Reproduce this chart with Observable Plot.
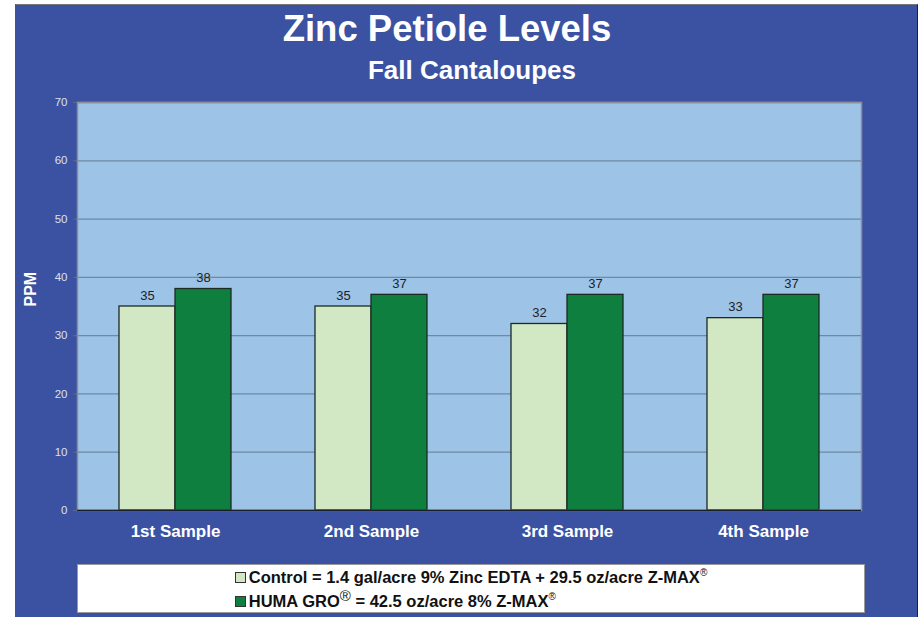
<!DOCTYPE html>
<html>
<head>
<meta charset="utf-8">
<script src="https://cdn.jsdelivr.net/npm/d3@7"></script>
<script src="https://cdn.jsdelivr.net/npm/@observablehq/plot@0.6"></script>
<style>
  html, body { margin: 0; padding: 0; background: #ffffff; }
  body { width: 923px; height: 617px; overflow: hidden; position: relative; font-family: "Liberation Sans", Arial, sans-serif; }
  #bg { position: absolute; left: 15px; top: 4px; width: 901px; height: 620px; background: #3b52a3; border-top: 1px solid #777; border-right: 1px solid #222; border-left: 1px solid #555; }
  .title { position: absolute; left: 0; top: 11px; width: 894px; text-align: center; color: #fff; font-weight: bold; font-size: 36.5px; line-height: 36px; }
  .subtitle { position: absolute; left: 0; top: 57px; width: 944px; text-align: center; color: #fff; font-weight: bold; font-size: 26px; line-height: 26px; }
  #chart { position: absolute; left: 0; top: 90px; }
  #legend { position: absolute; left: 77px; top: 564px; width: 786px; height: 47px; background: #fff; border: 1px solid #9a9a9a; display: flex; justify-content: center; align-items: center; }
  #legend .items { display: flex; flex-direction: column; align-items: flex-start; padding-left: 0px; margin-top: 1px; }
  #legend .item { display: flex; align-items: center; font-weight: bold; font-size: 16.5px; line-height: 24px; color: #111; white-space: nowrap; }
  #legend .sw { width: 9px; height: 9px; border: 1px solid #333; margin-right: 3px; }
  #legend sup.s { font-size: 10px; font-weight: normal; vertical-align: 7px; line-height: 0; }
  #legend sup.b { font-size: 15px; font-weight: normal; vertical-align: 6px; line-height: 0; }
</style>
</head>
<body>
<div id="bg"></div>
<div class="title">Zinc Petiole Levels</div>
<div class="subtitle">Fall Cantaloupes</div>
<div id="chart"></div>
<div id="legend"></div>
<script>
const samples = ["1st Sample", "2nd Sample", "3rd Sample", "4th Sample"];
const seriesNames = ["Control", "HUMA GRO"];
const controlValues = [35, 35, 32, 33];
const humaValues = [38, 37, 37, 37];
const seriesColors = ["#d2e7c3", "#0e7f3f"];
const yTicks = [0, 10, 20, 30, 40, 50, 60, 70];
const legendLabels = [
  'Control = 1.4 gal/acre 9% Zinc EDTA + 29.5 oz/acre Z-MAX<sup class="s">®</sup>',
  'HUMA GRO<sup class="b">®</sup> = 42.5 oz/acre 8% Z-MAX<sup class="s">®</sup>'
];

const data = [];
samples.forEach((s, i) => {
  data.push({sample: s, series: seriesNames[0], value: controlValues[i]});
  data.push({sample: s, series: seriesNames[1], value: humaValues[i]});
});

const chart = Plot.plot({
  width: 923,
  height: 460,
  marginLeft: 77,
  marginRight: 62,
  marginTop: 12,
  marginBottom: 40,
  style: {background: "transparent", fontFamily: "Liberation Sans, Arial, sans-serif", overflow: "visible"},
  fx: {domain: samples, padding: 0, label: null},
  x: {domain: seriesNames, paddingInner: 0, paddingOuter: 0.75, axis: null},
  y: {domain: [0, 70], label: null},
  color: {domain: seriesNames, range: seriesColors},
  marks: [
    Plot.frame({fill: "#9dc3e7", stroke: "none", facet: "super"}),
    Plot.gridY(yTicks, {stroke: "#6f88a3", strokeOpacity: 1, strokeWidth: 1.3}),
    Plot.barY(data, {fx: "sample", x: "series", y: "value", fill: "series", stroke: "#1e2a22", strokeWidth: 1.3}),
    Plot.text(data, {fx: "sample", x: "series", y: "value", text: d => String(d.value), dy: -11, fill: "#222", fontSize: 13}),
    Plot.axisY(yTicks, {anchor: "left", tickSize: 4, tickPadding: 6, fontSize: 11.5, color: "#dce1ea", stroke: "#5c6b85", label: null}),
    Plot.axisFx({anchor: "bottom", tickSize: 0, tickPadding: 14, fontSize: 17, fontWeight: "bold", color: "#ffffff", label: null}),
    Plot.frame({stroke: "#8a8f98", strokeWidth: 1.5, facet: "super"}),
    Plot.ruleY([0], {stroke: "#1a1f2e", strokeWidth: 1.5}),
    Plot.text(["PPM"], {frameAnchor: "left", dx: -47, rotate: -90, fill: "#ffffff", fontSize: 16, fontWeight: "bold", facet: "super"})
  ]
});
document.getElementById("chart").appendChild(chart);

const legend = document.getElementById("legend");
const items = document.createElement("div");
items.className = "items";
legendLabels.forEach((lab, i) => {
  const it = document.createElement("div");
  it.className = "item";
  const sw = document.createElement("span");
  sw.className = "sw";
  sw.style.background = seriesColors[i];
  it.appendChild(sw);
  const t = document.createElement("span");
  t.innerHTML = lab;
  it.appendChild(t);
  items.appendChild(it);
});
legend.appendChild(items);
</script>
</body>
</html>
